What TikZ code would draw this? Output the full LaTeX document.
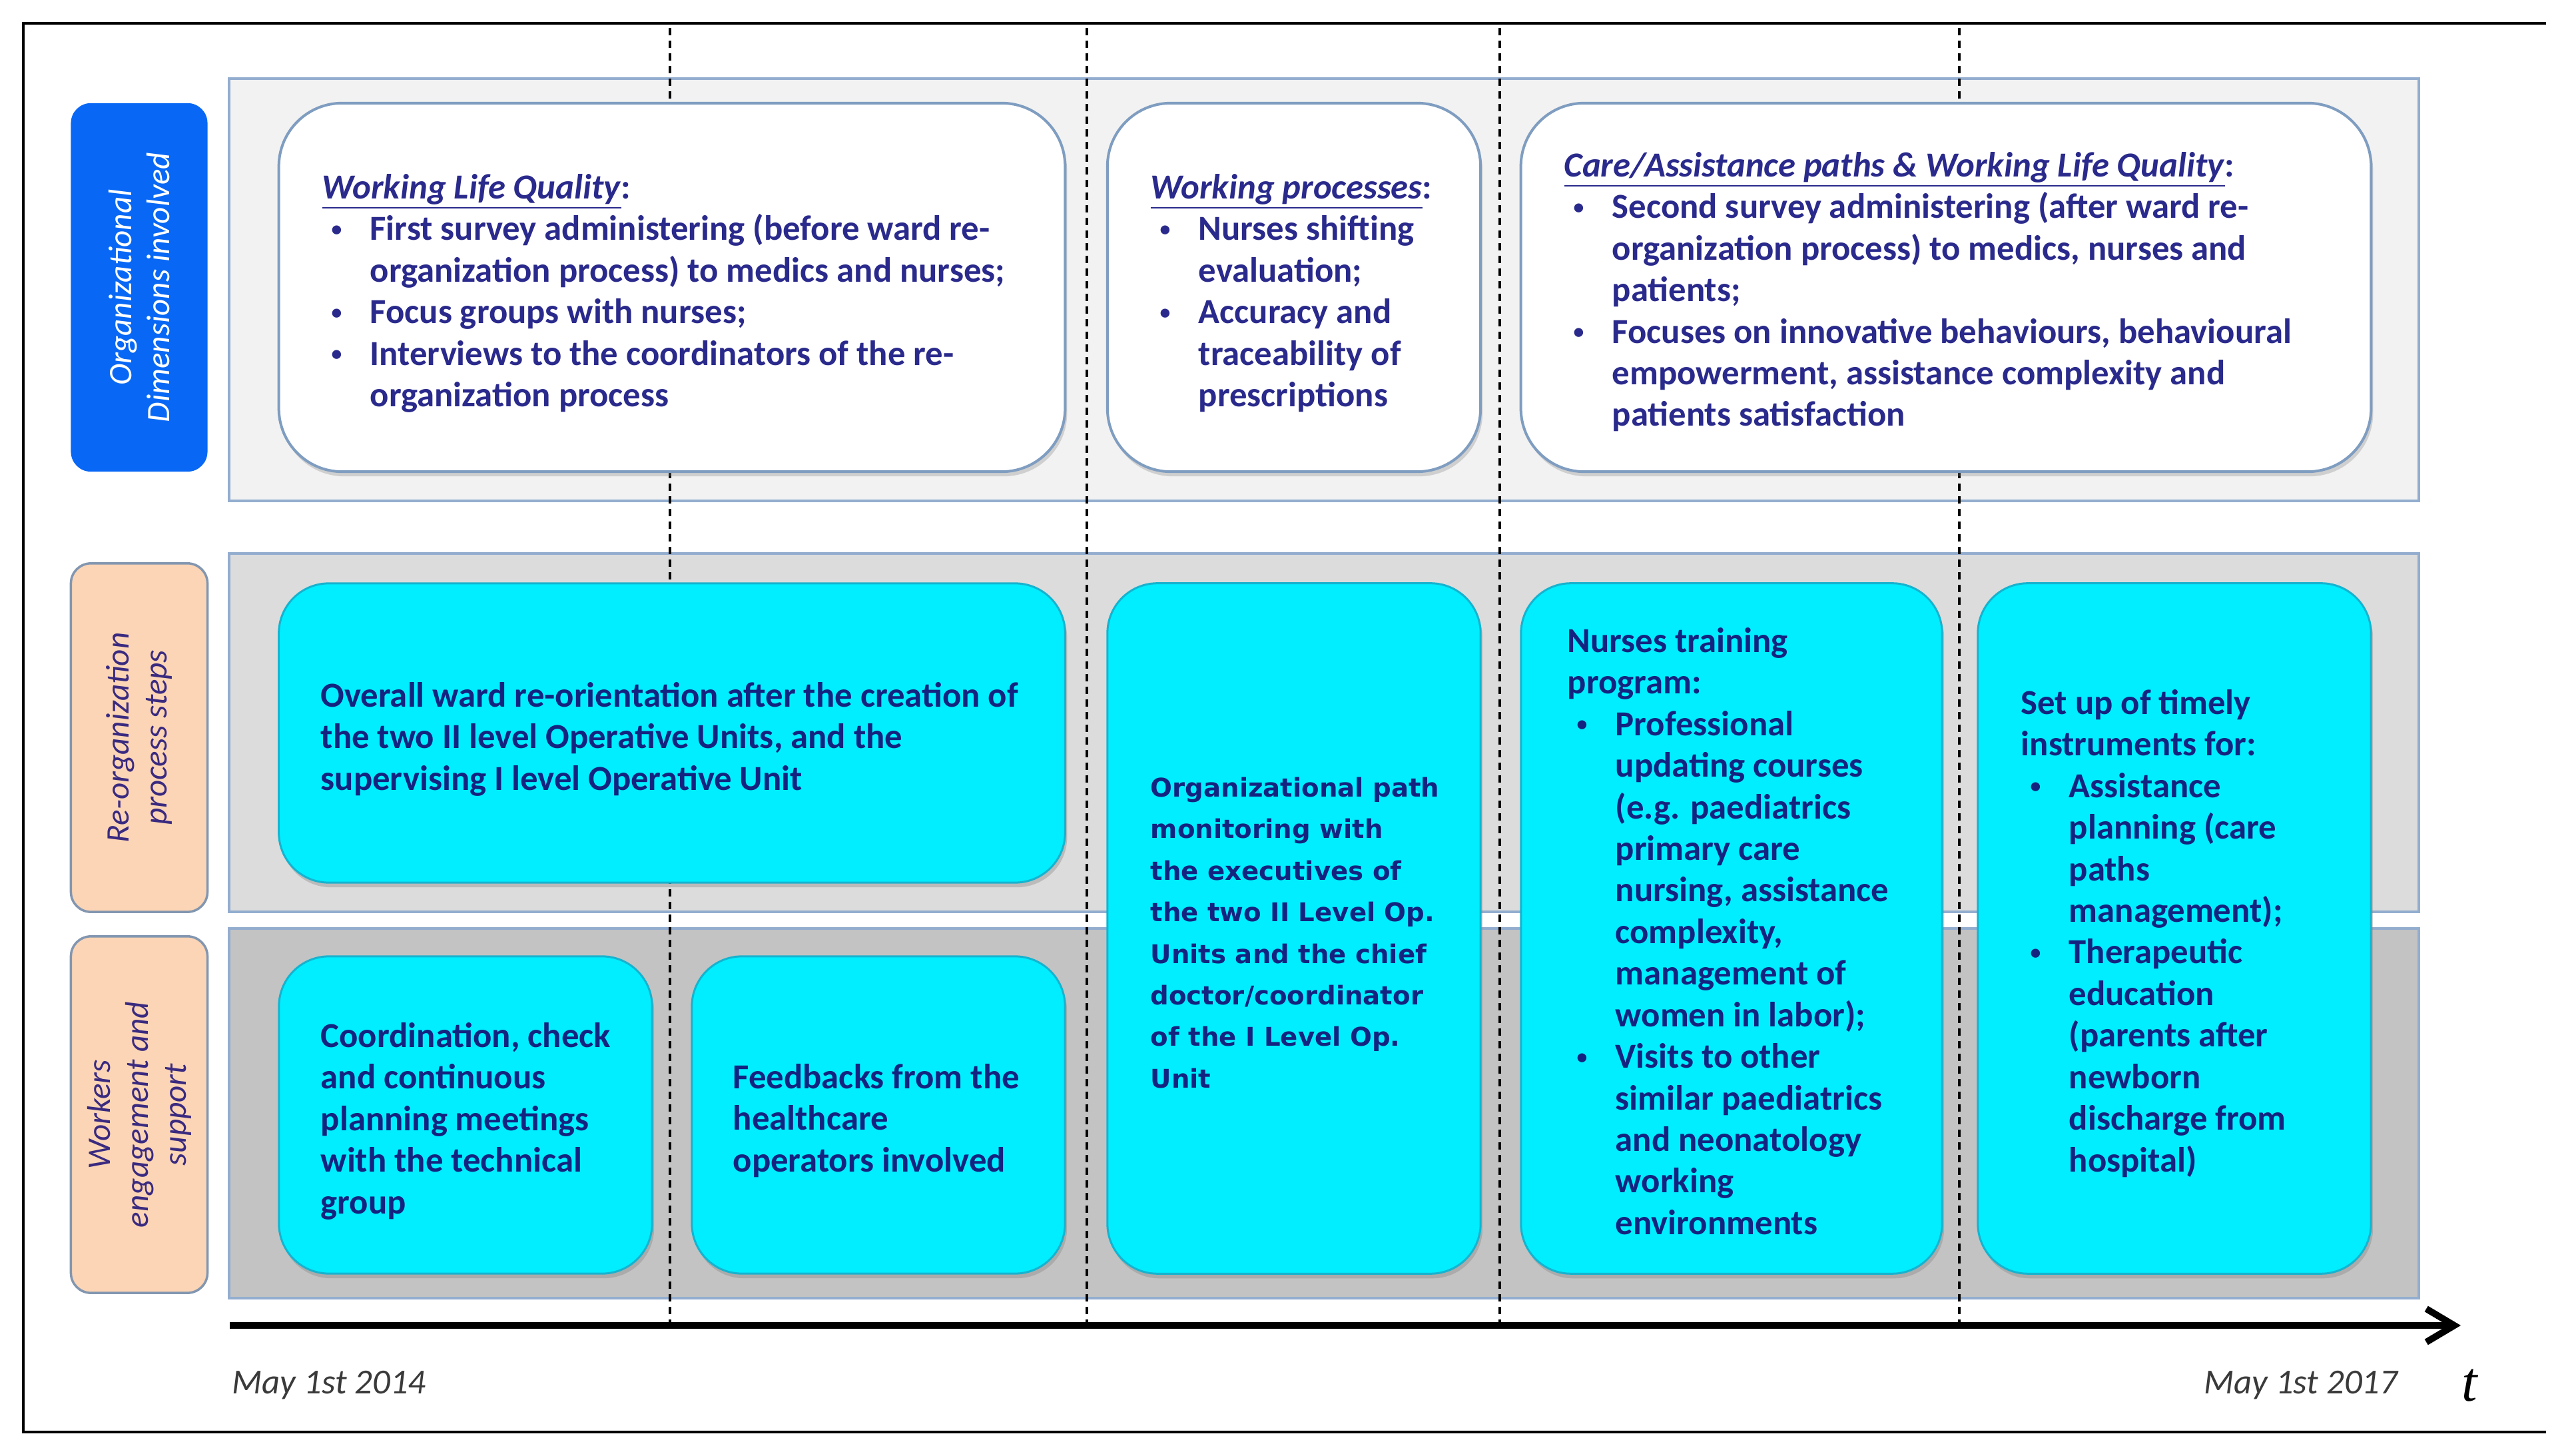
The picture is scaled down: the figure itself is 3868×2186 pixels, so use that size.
\documentclass[tikz,border=0pt]{standalone}
\usepackage{fontspec}
\setmainfont{Carlito}
\newfontfamily\verdfont{DejaVu Sans}
\newfontfamily\tfont{Liberation Serif}
\usetikzlibrary{shadows,arrows.meta}
\definecolor{toptext}{HTML}{2A2A8C}
\definecolor{cyantext}{HTML}{14237F}
\definecolor{cyanfill}{HTML}{00EEFF}
\definecolor{cyanline}{HTML}{16B3CF}
\definecolor{bandline}{HTML}{93ADCF}
\definecolor{boxline}{HTML}{7F9DC0}
\definecolor{peachfill}{HTML}{FBD5B5}
\definecolor{peachline}{HTML}{8296B0}
\definecolor{bluelab}{HTML}{0868F5}
\definecolor{labtext}{HTML}{3A2A80}
\definecolor{bandA}{HTML}{F2F2F2}
\definecolor{bandB}{HTML}{DCDCDC}
\definecolor{bandC}{HTML}{C3C3C3}
\definecolor{datetext}{HTML}{3A3A3A}
\newcommand\bodyfont{\fontsize{15}{17.75}\selectfont\bfseries}
\newcommand\bulx{\makebox[0.72cm][l]{\hspace{0.14cm}\raisebox{0.12em}{\fontsize{9}{9}\selectfont•}}}
\newcommand\indx{\hspace*{0.72cm}}
\begin{document}
\begin{tikzpicture}[x=0.01cm,y=-0.01cm,
  band/.style={draw=bandline, line width=0.04cm, inner sep=0, minimum width=32.86cm},
  wbox/.style={draw=boxline, line width=0.04cm, fill=white, rounded corners=0.95cm, inner sep=0,
    drop shadow={shadow xshift=0.03cm, shadow yshift=-0.07cm, opacity=0.3}},
  cbox/.style={draw=cyanline, line width=0.03cm, fill=cyanfill, rounded corners=0.75cm, inner sep=0,
    drop shadow={shadow xshift=0.03cm, shadow yshift=-0.07cm, opacity=0.35}},
  lab/.style={rounded corners=0.3cm, inner sep=0, minimum height=2.05cm, rotate=90, align=center,
    font=\fontsize{14}{16.2}\selectfont\itshape},
  txt/.style={anchor=north west, inner sep=0, align=left, font=\bodyfont},
  dashline/.style={line width=0.045cm, dash pattern=on 0.11cm off 0.08cm},
]
\useasboundingbox (0,0) rectangle (3868,2186);
\fill[white] (0,0) rectangle (3868,2186);

% outer frame (open on the right)
\draw[line width=0.045cm] (3823,35) -- (35,35) -- (35,2150) -- (3823,2150);

% bands
\node[band, fill=bandA, minimum height=6.34cm] (bandtop) at (1988,435) {};
\node[band, fill=bandB, minimum height=5.38cm] (bandmid) at (1988,1100) {};
\node[band, fill=bandC, minimum height=5.55cm] (bandbot) at (1988,1671.5) {};

% dashed time separators
\coordinate (d1a) at (1006,42);  \coordinate (d1b) at (1006,1988);
\coordinate (d2a) at (1632,42);  \coordinate (d2b) at (1632,1988);
\coordinate (d3a) at (2252,42);  \coordinate (d3b) at (2252,1988);
\coordinate (d4a) at (2942,42);  \coordinate (d4b) at (2942,1988);
\draw[dashline] (d1a) -- (d1b);
\draw[dashline] (d2a) -- (d2b);
\draw[dashline] (d3a) -- (d3b);
\draw[dashline] (d4a) -- (d4b);

% left labels
\node[lab, fill=bluelab, text=white, minimum width=5.53cm] (labA) at (209,431.5)
  {Organizational\\Dimensions involved};
\node[lab, fill=peachfill, draw=peachline, line width=0.035cm, text=labtext, minimum width=5.23cm] (labB) at (209,1107.5)
  {Re-organization\\process steps};
\node[lab, fill=peachfill, draw=peachline, line width=0.035cm, text=labtext, minimum width=5.35cm] (labC) at (209,1673.5)
  {Workers\\engagement and\\support};

% top white boxes
\node[wbox, minimum width=11.80cm, minimum height=5.53cm] (boxA) at (1009,431.5) {};
\node[wbox, minimum width=5.60cm, minimum height=5.53cm] (boxB) at (1943,431.5) {};
\node[wbox, minimum width=12.76cm, minimum height=5.53cm] (boxC) at (2922,431.5) {};

% cyan boxes
\node[cbox, minimum width=11.80cm, minimum height=4.49cm] (boxD) at (1009,1100.5) {};
\node[cbox, minimum width=5.60cm, minimum height=10.36cm] (boxE) at (1943,1394) {};
\node[cbox, minimum width=6.32cm, minimum height=10.36cm] (boxF) at (2600,1394) {};
\node[cbox, minimum width=5.90cm, minimum height=10.36cm] (boxG) at (3265,1394) {};
\node[cbox, minimum width=5.60cm, minimum height=4.76cm] (boxH) at (699,1674) {};
\node[cbox, minimum width=5.60cm, minimum height=4.76cm] (boxI) at (1319,1674) {};

% texts of the top boxes
\node[txt, text=toptext] (tA) at (483,254) {\strut\underline{\textit{Working Life Quality}}:\\
\bulx First survey administering (before ward re-\\
\indx organization process) to medics and nurses;\\
\bulx Focus groups with nurses;\\
\bulx Interviews to the coordinators of the re-\\
\indx organization process};
\node[txt, text=toptext] (tB) at (1727,254) {\strut\underline{\textit{Working processes}}:\\
\bulx Nurses shifting\\
\indx evaluation;\\
\bulx Accuracy and\\
\indx traceability of\\
\indx prescriptions};
\node[txt, text=toptext] (tC) at (2348,221) {\strut\underline{\textit{Care/Assistance paths \& Working Life Quality}}:\\
\bulx Second survey administering (after ward re-\\
\indx organization process) to medics, nurses and\\
\indx patients;\\
\bulx Focuses on innovative behaviours, behavioural\\
\indx empowerment, assistance complexity and\\
\indx patients satisfaction};

% texts of the cyan boxes
\node[txt, text=cyantext] (tD) at (481,1017) {\strut Overall ward re-orientation after the creation of\\
the two II level Operative Units, and the\\
supervising I level Operative Unit};
\node[txt, text=cyantext, font=\verdfont\fontsize{11}{17.75}\selectfont\bfseries] (tE) at (1727,1152) {\strut Organizational path\\
monitoring with\\
the executives of\\
the two II Level Op.\\
Units and the chief\\
doctor/coordinator\\
of the I Level Op.\\
Unit};
\node[txt, text=cyantext] (tF) at (2353,935) {\strut Nurses training\\
program:\\
\bulx Professional\\
\indx updating courses\\
\indx (e.g. paediatrics\\
\indx primary care\\
\indx nursing, assistance\\
\indx complexity,\\
\indx management of\\
\indx women in labor);\\
\bulx Visits to other\\
\indx similar paediatrics\\
\indx and neonatology\\
\indx working\\
\indx environments};
\node[txt, text=cyantext] (tG) at (3034,1028) {\strut Set up of timely\\
instruments for:\\
\bulx Assistance\\
\indx planning (care\\
\indx paths\\
\indx management);\\
\bulx Therapeutic\\
\indx education\\
\indx (parents after\\
\indx newborn\\
\indx discharge from\\
\indx hospital)};
\node[txt, text=cyantext] (tH) at (481,1528) {\strut Coordination, check\\
and continuous\\
planning meetings\\
with the technical\\
group};
\node[txt, text=cyantext] (tI) at (1100,1590) {\strut Feedbacks from the\\
healthcare\\
operators involved};

% timeline
\coordinate (t0) at (345,1990);
\coordinate (t1) at (3695,1990);
\draw[line width=0.1cm, -{Straight Barb[length=0.42cm, width=0.5cm]}] (t0) -- (t1);
\node[anchor=west, inner sep=0, text=datetext, font=\fontsize{15}{18}\selectfont\itshape] (may14) at (348,2080) {May 1st 2014};
\node[anchor=east, inner sep=0, text=datetext, font=\fontsize{15}{18}\selectfont\itshape] (may17) at (3601,2080) {May 1st 2017};
\node[inner sep=0, font=\tfont\fontsize{24}{28}\selectfont\itshape] (tlab) at (3708,2080) {t};
\end{tikzpicture}
\end{document}
